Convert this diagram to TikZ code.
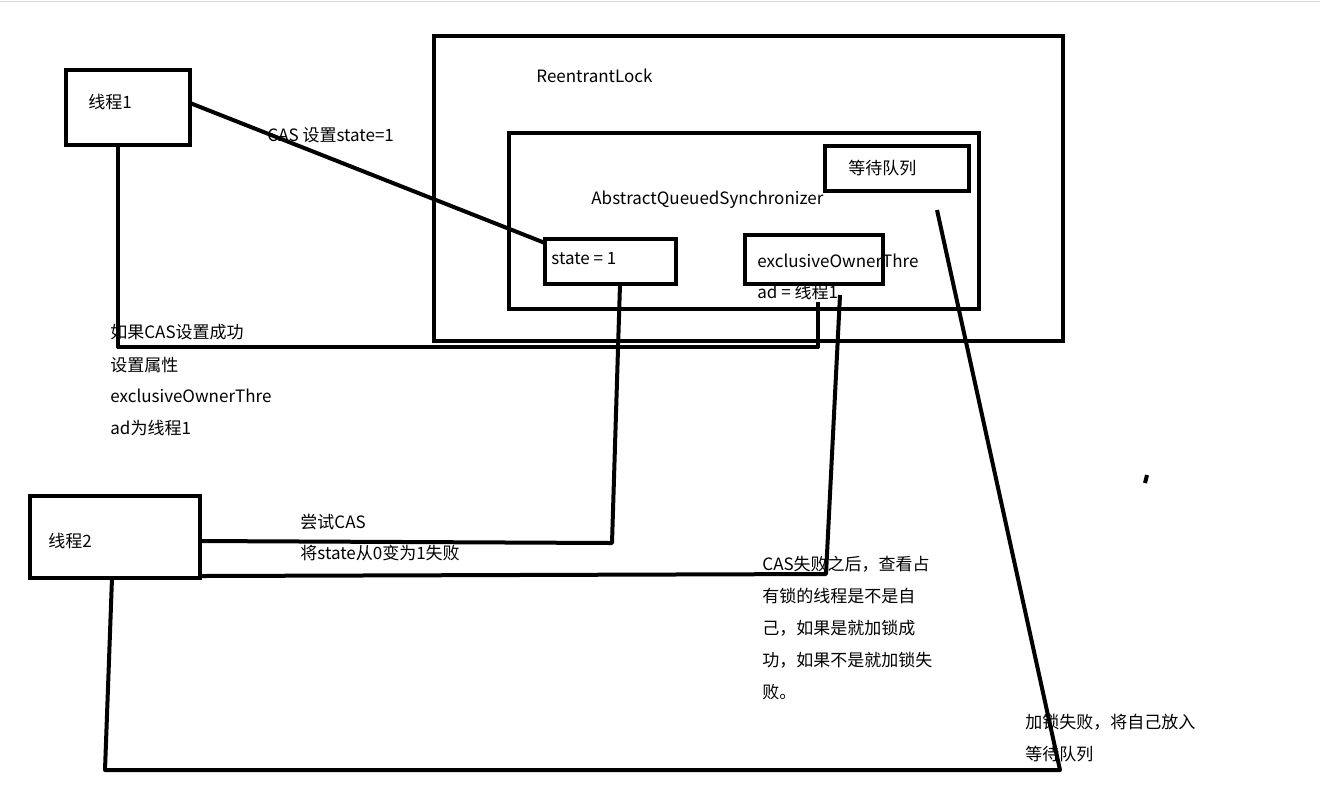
\documentclass[tikz,border=0pt]{standalone}
\usepackage{fontspec}
\setmainfont{Noto Sans CJK SC}
\begin{document}
\begin{tikzpicture}[x=0.5pt,y=-0.5pt,
  bx/.style={draw=black,line width=2pt},
  ln/.style={draw=black,line width=2pt,line join=round},
  tx/.style={anchor=west,inner sep=0pt,font=\fontsize{8.5}{10}\selectfont}]
\useasboundingbox (0,0) rectangle (1320,784);
\draw[gray!30,line width=0.5pt] (0,1) -- (1320,1);
\node[bx,minimum width=62pt,minimum height=37.5pt] (t1) at (128,107.5) {};
\node[bx,minimum width=314.5pt,minimum height=152.5pt] (rl) at (748.5,188.5) {};
\node[bx,minimum width=235pt,minimum height=88pt] (aqs) at (744,221) {};
\node[bx,minimum width=72pt,minimum height=22.5pt] (wq) at (897,168.5) {};
\node[bx,minimum width=65.5pt,minimum height=22.5pt] (st) at (610.5,261.5) {};
\node[bx,minimum width=69pt,minimum height=24.5pt] (eo) at (814,259.5) {};
\node[bx,minimum width=85pt,minimum height=41pt] (t2) at (115,537) {};
\coordinate (a1) at (118,347); \coordinate (a2) at (818,347); \coordinate (a3) at (818,302);
\coordinate (b1) at (620,284); \coordinate (b2) at (612,543);
\coordinate (c1) at (840,295); \coordinate (c2) at (826,574);
\coordinate (d1) at (112,578); \coordinate (d2) at (105,770); \coordinate (d3) at (1060,770); \coordinate (d4) at (937,210);
\draw[ln] (190,103) -- (545,243);
\draw[ln] (118,145) -- (a1) -- (a2) -- (a3);
\draw[ln] (b1) -- (b2) -- (200,541);
\draw[ln] (c1) -- (c2) -- (200,576);
\draw[ln] (d1) -- (d2) -- (d3) -- (d4);
\draw[ln] (1145,483) -- (1147,475);
\node[tx] (l1) at (88,102) {线程1};
\node[tx] (l2) at (536,76) {ReentrantLock};
\node[tx] (l3) at (267,135) {CAS 设置state=1};
\node[tx] (l4) at (591,200) {AbstractQueuedSynchronizer};
\node[tx] (l5) at (848,168) {等待队列};
\node[tx] (l6) at (551,259) {state = 1};
\node[tx] (l7) at (757,261) {exclusiveOwnerThre};
\node[tx] (l8) at (757,292) {ad = 线程1};
\node[tx] (l9) at (110,332) {如果CAS设置成功};
\node[tx] (l10) at (110,365) {设置属性};
\node[tx] (l11) at (110,396) {exclusiveOwnerThre};
\node[tx] (l12) at (110,428) {ad为线程1};
\node[tx] (l13) at (48,541) {线程2};
\node[tx] (l14) at (300,522) {尝试CAS};
\node[tx] (l15) at (300,553) {将state从0变为1失败};
\node[tx] (l16) at (762,564) {CAS失败之后，查看占};
\node[tx] (l17) at (762,596) {有锁的线程是不是自};
\node[tx] (l18) at (762,628) {己，如果是就加锁成};
\node[tx] (l19) at (762,660) {功，如果不是就加锁失};
\node[tx] (l20) at (762,692) {败。};
\node[tx] (l21) at (1025,722) {加锁失败，将自己放入};
\node[tx] (l22) at (1025,754) {等待队列};
\end{tikzpicture}
\end{document}
